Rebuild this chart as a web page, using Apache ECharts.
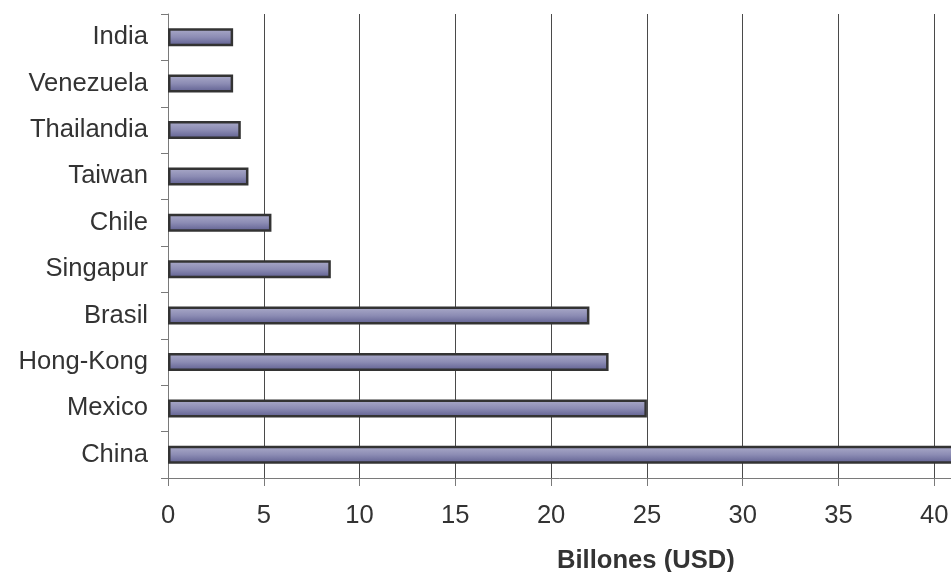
<!DOCTYPE html>
<html>
<head>
<meta charset="utf-8">
<script src="https://cdn.jsdelivr.net/npm/echarts@6/dist/echarts.min.js"></script>
<style>
  html, body { margin: 0; padding: 0; background: #fff; }
  #chart { width: 951px; height: 572px; }
</style>
</head>
<body>
<div id="chart"></div>
<script>
// Countries, listed top to bottom
const countries = ['India', 'Venezuela', 'Thailandia', 'Taiwan', 'Chile', 'Singapur', 'Brasil', 'Hong-Kong', 'Mexico', 'China'];
// Amounts in billions of USD
const amounts = [3.4, 3.4, 3.8, 4.2, 5.4, 8.5, 22.0, 23.0, 25.0, 42.0];
const xTicks = { min: 0, max: 45, step: 5 };
const axisTitle = 'Billones (USD)';

const chart = echarts.init(document.getElementById('chart'), null, { renderer: 'canvas' });

const barFill = new echarts.graphic.LinearGradient(0, 0, 0, 1, [
  { offset: 0, color: '#acacca' },
  { offset: 0.5, color: '#8c8cb4' },
  { offset: 1, color: '#5c5c8e' }
]);

const font = 'Liberation Sans, Arial, sans-serif';

chart.setOption({
  animation: false,
  backgroundColor: '#ffffff',
  grid: { left: 168, top: 14, width: 862, height: 464, containLabel: false, outerBoundsMode: 'none' },
  xAxis: {
    type: 'value',
    min: xTicks.min,
    max: xTicks.max,
    interval: xTicks.step,
    axisLine: { show: true, lineStyle: { color: '#7a7a7a', width: 1 } },
    axisTick: { show: true, length: 8, lineStyle: { color: '#7a7a7a' } },
    axisLabel: { margin: 25, fontFamily: font, fontSize: 25.6, color: '#333' },
    splitLine: { show: true, lineStyle: { color: '#4a4a4a', width: 1 } }
  },
  yAxis: {
    type: 'category',
    inverse: true,
    data: countries,
    axisLine: { show: true, lineStyle: { color: '#7a7a7a', width: 1 } },
    axisTick: { show: true, inside: false, length: 7, lineStyle: { color: '#7a7a7a' } },
    axisLabel: { margin: 20, fontFamily: font, fontSize: 25.6, color: '#333' }
  },
  series: [{
    type: 'bar',
    data: amounts,
    barWidth: 18,
    itemStyle: { color: barFill, borderColor: '#333333', borderWidth: 2.5 }
  }],
  graphic: [{
    type: 'text',
    x: 557,
    y: 561,
    style: {
      text: axisTitle,
      font: 'bold 25.6px "Liberation Sans", Arial, sans-serif',
      fill: '#333',
      textVerticalAlign: 'middle'
    }
  }]
});
</script>
</body>
</html>
